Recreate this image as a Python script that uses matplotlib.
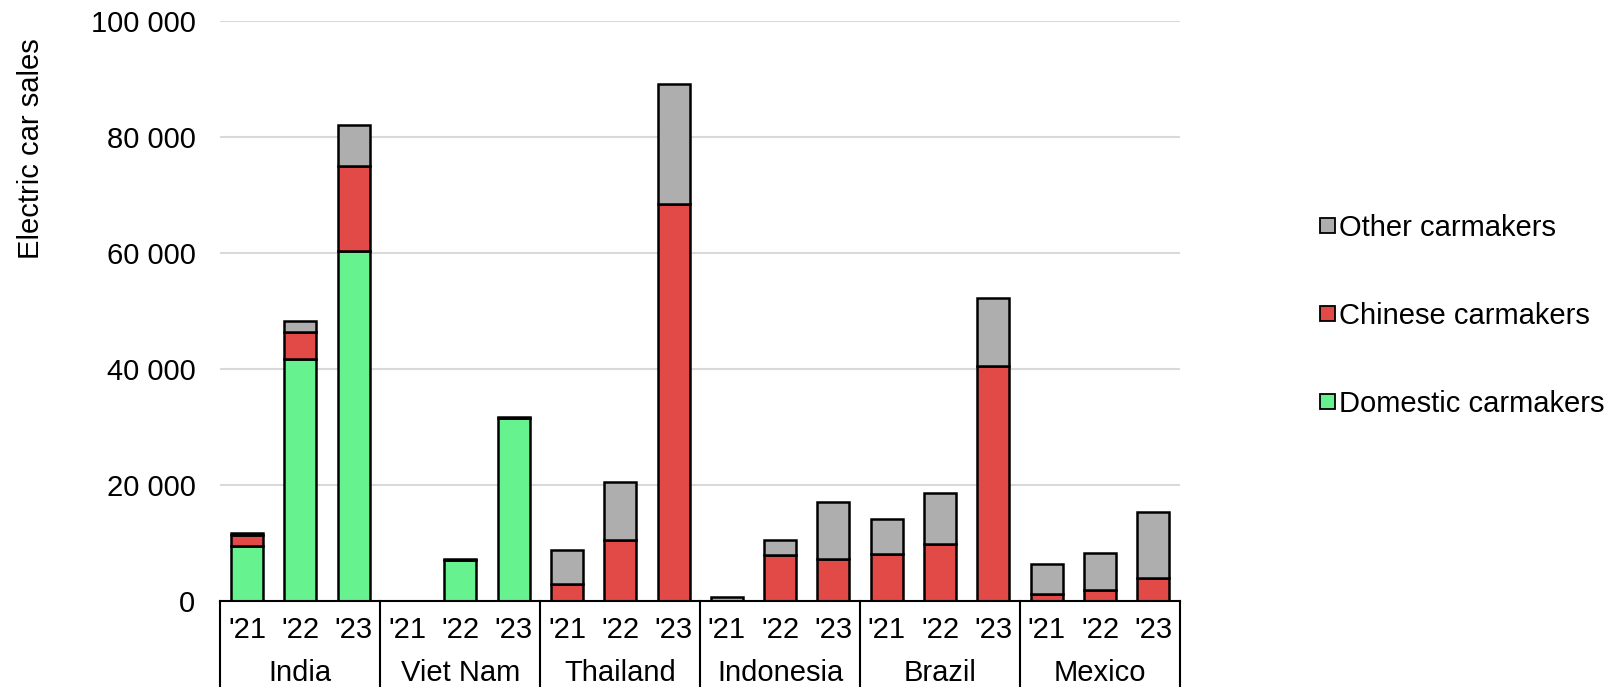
import matplotlib
matplotlib.use("Agg")
import matplotlib.pyplot as plt
from matplotlib.patches import Patch
from matplotlib.lines import Line2D
import numpy as np

plt.rcParams['font.family'] = ['Liberation Sans', 'DejaVu Sans']

countries = ["India", "Viet Nam", "Thailand", "Indonesia", "Brazil", "Mexico"]
years = ["'21", "'22", "'23"]

# Sales per country and year ('21, '22, '23)
domestic = [9500, 41800, 60400,
            100, 7100, 31500,
            0, 0, 0,
            0, 0, 0,
            0, 0, 0,
            0, 0, 0]
chinese = [1900, 4600, 14600,
           0, 0, 0,
           3000, 10600, 68400,
           0, 7900, 7200,
           8200, 9800, 40500,
           1200, 1900, 4000]
other = [300, 1800, 7100,
         0, 200, 300,
         5900, 10000, 20600,
         700, 2600, 9800,
         6000, 8900, 11700,
         5200, 6400, 11300]

series_labels = ["Domestic carmakers", "Chinese carmakers", "Other carmakers"]
colors = ["#66F28F", "#E24A47", "#AEAEAE"]

W, H, DPI = 1615, 687, 100
FS = 21
fig = plt.figure(figsize=(W / DPI, H / DPI), dpi=DPI)
ax = fig.add_axes([220.4 / W, 1 - 601.2 / H, (1180 - 220.4) / W, (601.2 - 20.6) / H])

n = len(countries) * len(years)
x = np.arange(n)
bw = 0.6
lw = 1.8

dom = np.array(domestic, float)
chi = np.array(chinese, float)
oth = np.array(other, float)

ax.bar(x, dom, bw, color=colors[0], edgecolor="black", linewidth=lw, zorder=3)
ax.bar(x, chi, bw, bottom=dom, color=colors[1], edgecolor="black", linewidth=lw, zorder=3)
ax.bar(x, oth, bw, bottom=dom + chi, color=colors[2], edgecolor="black", linewidth=lw, zorder=3)

ax.set_xlim(-0.5, n - 0.5)
ax.set_ylim(0, 100000)
ax.set_yticks(np.arange(0, 100001, 20000))
ax.set_yticklabels([f"{v:,}".replace(",", " ") for v in range(0, 100001, 20000)])
ax.tick_params(axis="y", length=0, pad=18, labelsize=FS)
ax.grid(axis="y", color="#D9D9D9", linewidth=1.5, zorder=0)
ax.set_axisbelow(True)
for s in ["top", "right", "left"]:
    ax.spines[s].set_visible(False)
ax.spines["bottom"].set_linewidth(1.5)
ax.spines["bottom"].set_zorder(4)

# Year labels under each bar and country labels under each group
ax.set_xticks(x)
ax.set_xticklabels(years * len(countries))
ax.tick_params(axis="x", length=0, pad=11, labelsize=FS)

trans = ax.get_xaxis_transform()
span = 601.2 - 20.6
sep_bottom = -(H - 601.2) / span - 0.05
for k in range(len(countries) + 1):
    xs = k * 3 - 0.5
    ax.add_line(Line2D([xs, xs], [0, sep_bottom], transform=trans, color="black",
                       linewidth=1.5, clip_on=False))
for k, c in enumerate(countries):
    ax.text(k * 3 + 1, -(681 - 601.2) / span, c, transform=trans,
            ha="center", va="baseline", fontsize=FS)

fig.text(31 / W, 1 - 149 / H, "Electric car sales", rotation=90, ha="center",
         va="center", fontsize=FS)

handles = [Patch(facecolor=colors[i], edgecolor="black", linewidth=1.3)
           for i in (2, 1, 0)]
labels = [series_labels[i] for i in (2, 1, 0)]
fig.legend(handles, labels, loc="center left", bbox_to_anchor=(1320 / W, 1 - 316 / H),
           frameon=False, fontsize=FS, handlelength=0.5, handleheight=0.42,
           handletextpad=0.15, labelspacing=2.05, borderaxespad=0, borderpad=0)

fig.savefig("out.png", dpi=DPI)
